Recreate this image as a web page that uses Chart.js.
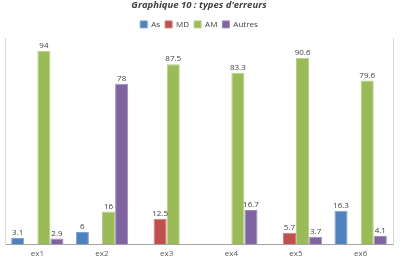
<!DOCTYPE html>
<html>
<head>
<meta charset="utf-8">
<script src="https://cdn.jsdelivr.net/npm/chart.js@4"></script>
<style>
html,body{margin:0;padding:0;background:#fff;}
#wrap{width:400px;height:265px;position:relative;}
</style>
</head>
<body>
<div id="wrap"><canvas id="c" width="400" height="265"></canvas></div>
<script>
const categories = ["ex1", "ex2", "ex3", "ex4", "ex5", "ex6"];
const seriesNames = ["As", "MD", "AM", "Autres"];
const asValues = [3.1, 6, null, null, null, 16.3];
const mdValues = [null, null, 12.5, null, 5.7, null];
const amValues = [94, 16, 87.5, 83.3, 90.6, 79.6];
const autresValues = [2.9, 78, null, 16.7, 3.7, 4.1];
const colors = ["#4F81BD", "#C0504D", "#9BBB59", "#8064A2"];
const borders = ["#7FA3D1", "#D17D7B", "#B7D088", "#9F8ABB"];
const FONT = "'Open Sans', 'DejaVu Sans', sans-serif";

const valueLabels = {
  id: 'valueLabels',
  afterDatasetsDraw(chart) {
    const ctx = chart.ctx;
    ctx.save();
    ctx.font = "8px " + FONT;
    ctx.fillStyle = "#404040";
    ctx.textAlign = "center";
    ctx.textBaseline = "bottom";
    chart.data.datasets.forEach((ds, i) => {
      const meta = chart.getDatasetMeta(i);
      meta.data.forEach((bar, j) => {
        const v = ds.data[j];
        if (v === null || v === undefined) return;
        ctx.fillText(String(v), bar.x, bar.y - 1);
      });
    });
    ctx.restore();
  }
};

const allSeries = [asValues, mdValues, amValues, autresValues];
new Chart(document.getElementById('c'), {
  type: 'bar',
  data: {
    labels: categories,
    datasets: allSeries.map((d, i) => ({
      label: seriesNames[i],
      data: d,
      backgroundColor: colors[i],
      borderColor: borders[i],
      borderWidth: 1,
      categoryPercentage: 0.81,
      barPercentage: 1.0
    }))
  },
  options: {
    responsive: false,
    animation: false,
    devicePixelRatio: 1,
    layout: { padding: { left: 5, right: 7, top: 0, bottom: 1 } },
    plugins: {
      title: {
        display: true,
        text: "Graphique 10 : types d'erreurs",
        color: "#404040",
        font: { family: FONT, size: 9.5, weight: 'bold', style: 'italic' },
        padding: { top: 0, bottom: 4 }
      },
      legend: {
        display: true,
        labels: {
          color: "#404040",
          font: { family: FONT, size: 8 },
          boxWidth: 7,
          boxHeight: 7,
          padding: 5
        }
      },
      tooltip: { enabled: false }
    },
    scales: {
      x: {
        grid: { display: false, drawTicks: false },
        border: { display: true, color: "#A6A6A6", width: 1 },
        ticks: { color: "#595959", font: { family: FONT, size: 8 }, padding: 5 }
      },
      y: {
        min: 0, max: 100,
        grid: { display: false, drawTicks: false },
        border: { display: true, color: "#D9D9D9", width: 1 },
        ticks: { display: false }
      },
      y2: {
        position: 'right',
        min: 0, max: 100,
        grid: { display: false, drawTicks: false },
        border: { display: true, color: "#D9D9D9", width: 1 },
        ticks: { display: false }
      }
    }
  },
  plugins: [valueLabels]
});
</script>
</body>
</html>
